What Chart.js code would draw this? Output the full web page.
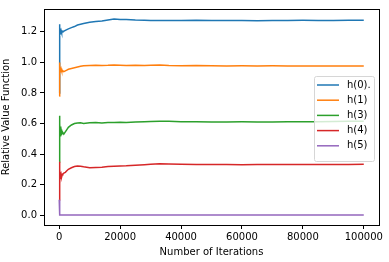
<!DOCTYPE html>
<html>
<head>
<meta charset="utf-8">
<script src="https://cdn.jsdelivr.net/npm/chart.js@4/dist/chart.umd.min.js"></script>
<style>
  html, body { margin: 0; padding: 0; background: #fff; }
  #wrap { width: 389px; height: 262px; }
</style>
</head>
<body>
<div id="wrap"><canvas id="rvfChart" width="389" height="262"></canvas></div>
<script>
const iterations = [0, 50, 100, 150, 200, 250, 300, 400, 500, 600, 800, 1000, 1200, 1500, 2000, 2500, 3000, 4000, 5000, 6000, 7000, 8000, 10000, 12000, 14000, 16000, 18000, 20000, 22000, 25000, 28000, 30000, 33000, 36000, 40000, 45000, 50000, 55000, 60000, 65000, 70000, 75000, 80000, 85000, 90000, 95000, 100000];

const seriesNames = ['h(0).', 'h(1)', 'h(3)', 'h(4)', 'h(5)'];
const seriesColors = ['#1f77b4', '#ff7f0e', '#2ca02c', '#d62728', '#9467bd'];

const h0 = [0.80, 1.25, 1.18, 1.24, 1.20, 1.23, 1.19, 1.22, 1.20, 1.21, 1.195, 1.20, 1.205, 1.205, 1.21, 1.215, 1.22, 1.228, 1.235, 1.245, 1.25, 1.255, 1.263, 1.268, 1.272, 1.278, 1.284, 1.281, 1.282, 1.278, 1.276, 1.275, 1.274, 1.275, 1.274, 1.276, 1.275, 1.275, 1.274, 1.273, 1.274, 1.275, 1.276, 1.275, 1.275, 1.276, 1.276];
const h1 = [0.78, 1.00, 0.93, 0.99, 0.95, 0.97, 0.94, 0.96, 0.95, 0.96, 0.945, 0.94, 0.945, 0.94, 0.945, 0.95, 0.955, 0.96, 0.965, 0.97, 0.975, 0.978, 0.98, 0.982, 0.98, 0.981, 0.983, 0.982, 0.98, 0.982, 0.98, 0.981, 0.983, 0.98, 0.979, 0.98, 0.978, 0.977, 0.978, 0.977, 0.978, 0.977, 0.976, 0.977, 0.976, 0.977, 0.977];
const h3 = [0.35, 0.65, 0.50, 0.63, 0.54, 0.60, 0.52, 0.58, 0.55, 0.56, 0.53, 0.535, 0.54, 0.53, 0.545, 0.56, 0.575, 0.59, 0.60, 0.603, 0.605, 0.60, 0.605, 0.607, 0.604, 0.606, 0.607, 0.608, 0.606, 0.61, 0.612, 0.613, 0.615, 0.614, 0.612, 0.611, 0.61, 0.61, 0.611, 0.61, 0.61, 0.611, 0.612, 0.612, 0.613, 0.614, 0.615];
const h4 = [0.10, 0.35, 0.22, 0.33, 0.25, 0.30, 0.24, 0.28, 0.26, 0.27, 0.25, 0.265, 0.27, 0.275, 0.28, 0.29, 0.30, 0.31, 0.318, 0.322, 0.32, 0.316, 0.31, 0.312, 0.314, 0.318, 0.32, 0.322, 0.323, 0.326, 0.33, 0.333, 0.337, 0.335, 0.333, 0.331, 0.332, 0.331, 0.33, 0.331, 0.332, 0.331, 0.331, 0.332, 0.332, 0.332, 0.333];
const h5 = [0.10, 0, 0, 0, 0, 0, 0, 0, 0, 0, 0, 0, 0, 0, 0, 0, 0, 0, 0, 0, 0, 0, 0, 0, 0, 0, 0, 0, 0, 0, 0, 0, 0, 0, 0, 0, 0, 0, 0, 0, 0, 0, 0, 0, 0, 0, 0];

const xTicks = [0, 20000, 40000, 60000, 80000, 100000];
const yTicks = [0, 0.2, 0.4, 0.6, 0.8, 1.0, 1.2];

const allSeries = [h0, h1, h3, h4, h5];
const tickFont = { family: 'DejaVu Sans', size: 10 };

// matplotlib-style full box round the plot area
const frameBox = {
    id: 'frameBox',
    afterDatasetsDraw(chart) {
        const a = chart.chartArea;
        const ctx = chart.ctx;
        ctx.save();
        ctx.strokeStyle = '#000';
        ctx.lineWidth = 1;
        ctx.strokeRect(Math.round(a.left) + 0.5, Math.round(a.top) + 0.5, Math.round(a.right - a.left), Math.round(a.bottom - a.top));
        ctx.restore();
    }
};

// legend drawn inside the axes, right side
const innerLegend = {
    id: 'innerLegend',
    afterDraw(chart) {
        const ctx = chart.ctx;
        const a = chart.chartArea;
        const boxW = 60, rowH = 15.2;
        const boxH = 9 + rowH * chart.data.datasets.length;
        const x0 = a.right - 5 - boxW;
        const y0 = 76;
        ctx.save();
        ctx.fillStyle = 'rgba(255,255,255,0.8)';
        ctx.strokeStyle = '#d6d6d6';
        ctx.lineWidth = 1;
        ctx.beginPath();
        ctx.roundRect(x0 + 0.5, y0 + 0.5, boxW, boxH, 2);
        ctx.fill();
        ctx.stroke();
        ctx.font = '10px "DejaVu Sans"';
        ctx.textBaseline = 'middle';
        chart.data.datasets.forEach((ds, i) => {
            const cy = y0 + 9 + rowH * i;
            ctx.strokeStyle = ds.borderColor;
            ctx.lineWidth = 1.5;
            ctx.beginPath();
            ctx.moveTo(x0 + 3, cy);
            ctx.lineTo(x0 + 25, cy);
            ctx.stroke();
            ctx.fillStyle = '#000';
            ctx.fillText(ds.label, x0 + 33, cy);
        });
        ctx.restore();
    }
};

const ctx = document.getElementById('rvfChart').getContext('2d');
new Chart(ctx, {
    type: 'line',
    data: {
        datasets: allSeries.map((vals, i) => ({
            label: seriesNames[i],
            data: vals.map((v, k) => ({ x: iterations[k], y: v })),
            borderColor: seriesColors[i],
            backgroundColor: seriesColors[i],
            borderWidth: 1.5,
            pointRadius: 0,
            tension: 0,
            order: -i
        }))
    },
    options: {
        responsive: false,
        animation: false,
        layout: { padding: { top: 6, right: 10, left: 0, bottom: 0 } },
        plugins: {
            legend: { display: false },
            tooltip: { enabled: false }
        },
        scales: {
            x: {
                type: 'linear',
                min: -5000,
                max: 105000,
                afterBuildTicks: s => { s.ticks = xTicks.map(v => ({ value: v })); },
                afterFit: s => { s.height = 37; },
                grid: { drawOnChartArea: false, drawTicks: true, tickLength: 4, color: '#000' },
                border: { display: false },
                ticks: { font: tickFont, color: '#000', padding: 2, maxRotation: 0, callback: v => String(v) },
                title: { display: true, text: 'Number of Iterations', font: tickFont, color: '#000', padding: { top: 0, bottom: 4 } }
            },
            y: {
                min: -0.065,
                max: 1.35,
                afterBuildTicks: s => { s.ticks = yTicks.map(v => ({ value: v })); },
                afterFit: s => { s.width = 44; },
                grid: { drawOnChartArea: false, drawTicks: true, tickLength: 4, color: '#000' },
                border: { display: false },
                ticks: { font: tickFont, color: '#000', padding: 3, callback: v => v.toFixed(1) },
                title: { display: true, text: 'Relative Value Function', font: tickFont, color: '#000', padding: { top: 0, bottom: 2 } }
            }
        }
    },
    plugins: [frameBox, innerLegend]
});
</script>
</body>
</html>
